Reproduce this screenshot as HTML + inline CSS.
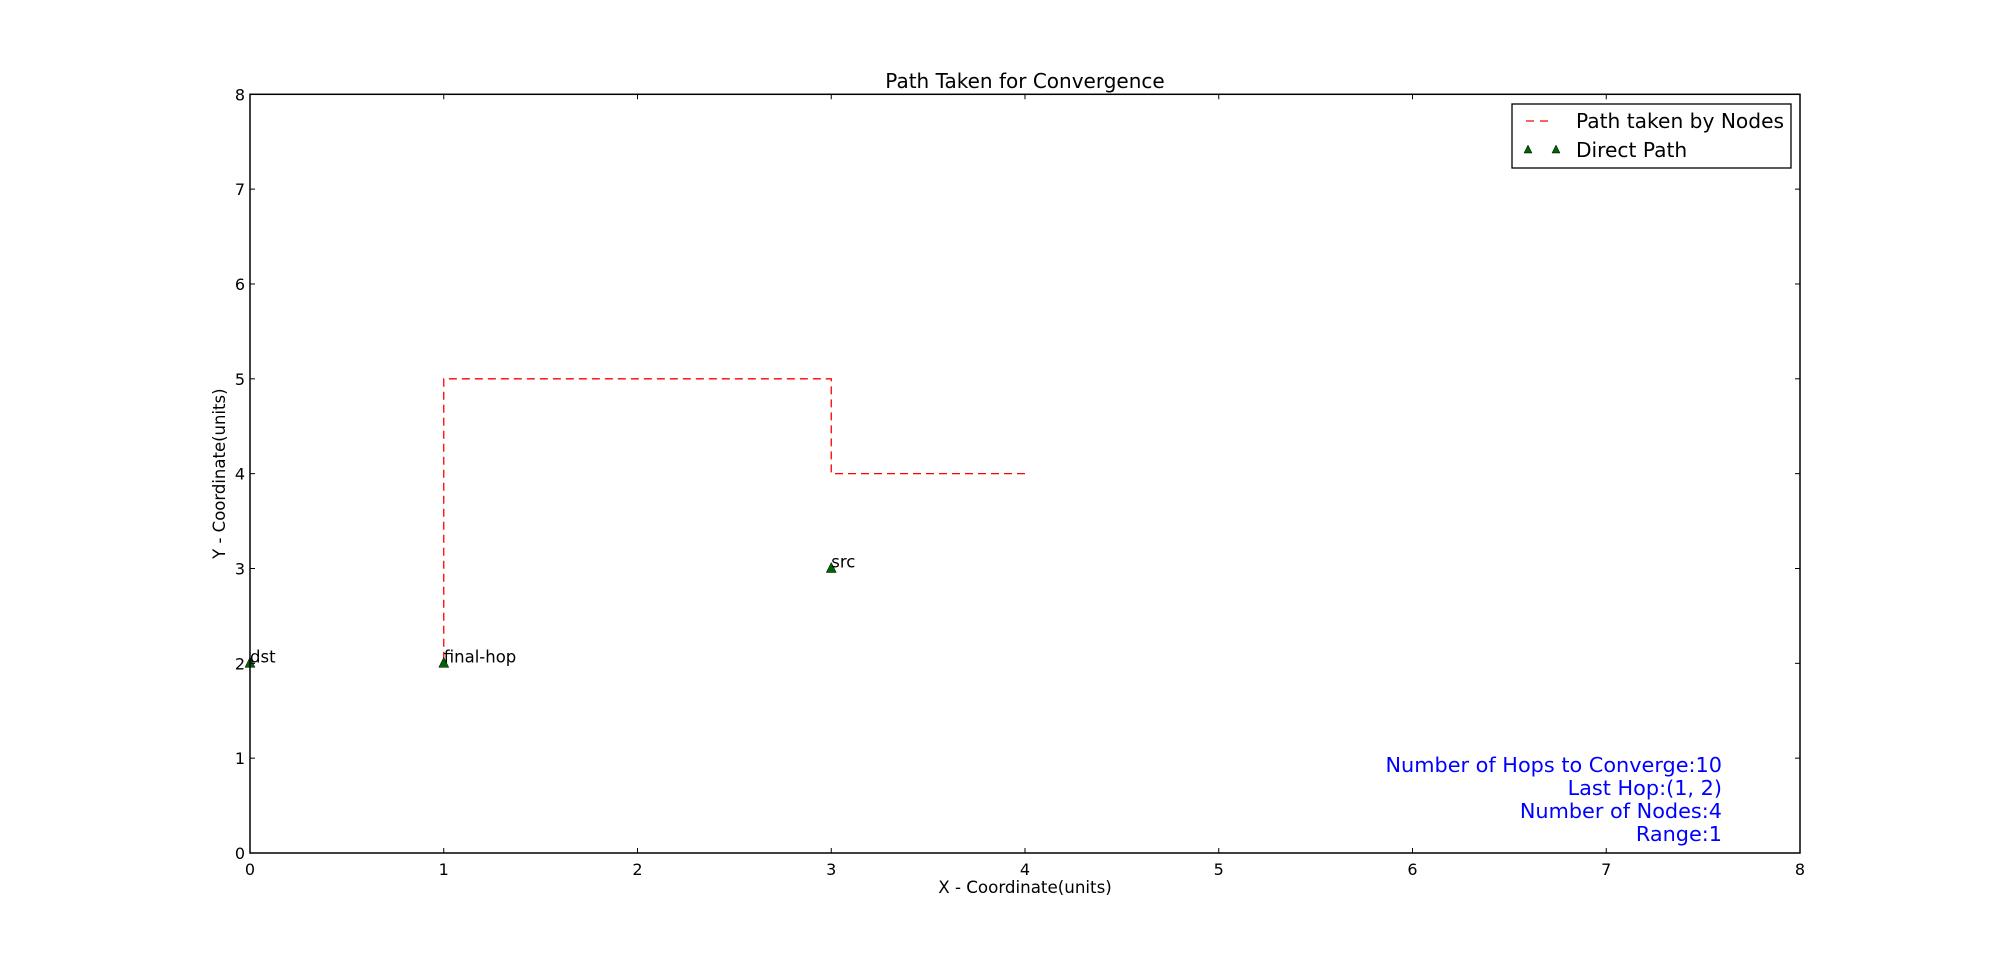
<!DOCTYPE html>
<html><head><meta charset="utf-8"><style>
body{margin:0;background:#fff}
svg text{font-family:"DejaVu Sans","Liberation Sans",sans-serif}
</style></head><body>
<svg id="chart" width="2000" height="948" xmlns="http://www.w3.org/2000/svg">
<rect width="2000" height="948" fill="#fff"/>
<g id="plot"></g>
</svg>
<script>
const pathX=[4,3,3,1,1];
const pathY=[4,4,5,5,2];
const nodeX=[0,1,3];
const nodeY=[2,2,3];
const nodeLabels=["dst","final-hop","src"];
const xTicks=[0,1,2,3,4,5,6,7,8];
const yTicks=[0,1,2,3,4,5,6,7,8];
const infoLines=["Number of Hops to Converge:10","Last Hop:(1, 2)","Number of Nodes:4","Range:1"];

const L=250,R=1800,T=94.3,B=853;
const sx=v=>L+(v-0)/8*(R-L);
const sy=v=>B-(v-0)/8*(B-T);
const NS="http://www.w3.org/2000/svg";
const g=document.getElementById('plot');
function mk(t,a,txt){const e=document.createElementNS(NS,t);for(const k in a)e.setAttribute(k,a[k]);if(txt!==undefined)e.textContent=txt;g.appendChild(e);return e;}

let d=pathX.map((x,i)=>(i?'L':'M')+sx(x)+' '+sy(pathY[i])).join(' ');
let p=mk('path',{d:d,fill:'none',stroke:'#ff0000','stroke-width':1.3,'stroke-dasharray':'8 5'});



nodeX.forEach((x,i)=>{
  const cx=sx(x),cy=sy(nodeY[i]);
  const tri=mk('polygon',{points:`${cx},${cy-6} ${cx-5},${cy+4} ${cx+5},${cy+4}`,fill:'#006400',stroke:'#000','stroke-width':0.5});
  
  
  const t=mk('text',{x:cx,y:cy-1,'font-size':16.5,fill:'#000'},nodeLabels[i]);
  
  
});

let fr=mk('rect',{x:L,y:T,width:R-L,height:B-T,fill:'none',stroke:'#000','stroke-width':1.5});



xTicks.forEach(v=>{
  const x=sx(v);
  mk('line',{x1:x,x2:x,y1:B,y2:B-5,stroke:'#000'});
  mk('line',{x1:x,x2:x,y1:T,y2:T+5,stroke:'#000'});
  const t=mk('text',{x:x,y:B+22,'font-size':16,'text-anchor':'middle'},String(v));
  
  
});
yTicks.forEach(v=>{
  const y=sy(v);
  mk('line',{x1:L,x2:L+5,y1:y,y2:y,stroke:'#000'});
  mk('line',{x1:R,x2:R-5,y1:y,y2:y,stroke:'#000'});
  const t=mk('text',{x:L-5,y:y+6,'font-size':16,'text-anchor':'end'},String(v));
  
  
});

let tt=mk('text',{x:(L+R)/2,y:88,'font-size':20,'text-anchor':'middle'},'Path Taken for Convergence');


let xl=mk('text',{x:(L+R)/2,y:893,'font-size':16.7,'text-anchor':'middle'},'X - Coordinate(units)');


let yl=mk('text',{x:0,y:0,'font-size':16.5,'text-anchor':'middle',transform:`translate(225,${(T+B)/2}) rotate(-90)`},'Y - Coordinate(units)');



infoLines.forEach((s,i)=>{
  const t=mk('text',{x:1722,y:772+i*23,'font-size':20.8,'text-anchor':'end',fill:'#0000ff'},s);
  
  
});

let lg=mk('rect',{x:1512,y:104,width:279,height:64,fill:'#fff',stroke:'#000','stroke-width':1.3});


mk('line',{x1:1526,x2:1552,y1:121,y2:121,stroke:'#ff0000','stroke-width':1.3,'stroke-dasharray':'8 6'});
[1528,1556].forEach(x=>mk('polygon',{points:`${x},${145} ${x-4},${153} ${x+4},${153}`,fill:'#006400',stroke:'#000','stroke-width':0.5}));
let l1=mk('text',{x:1576,y:128,'font-size':20.2},'Path taken by Nodes');


let l2=mk('text',{x:1576,y:157,'font-size':20.2},'Direct Path');


</script>
</body></html>
